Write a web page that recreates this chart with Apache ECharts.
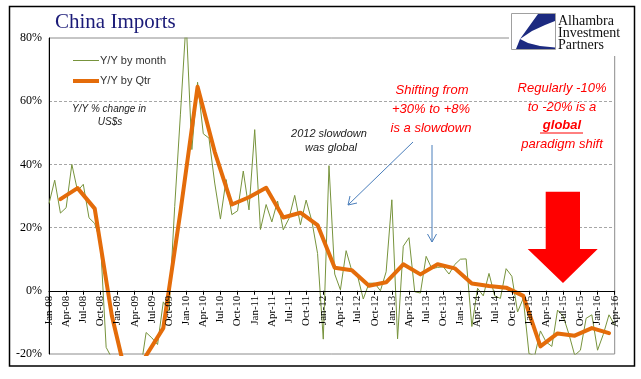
<!DOCTYPE html>
<html>
<head>
<meta charset="utf-8">
<script src="https://cdn.jsdelivr.net/npm/echarts@6/dist/echarts.min.js"></script>
<style>
html,body{margin:0;padding:0;background:#fff;}
#chart{width:641px;height:379px;}
</style>
</head>
<body>
<div id="chart"></div>
<script>
// ---- Data (China imports, Y/Y % change in US$) ----
const monthNames = ['Jan','Feb','Mar','Apr','May','Jun','Jul','Aug','Sep','Oct','Nov','Dec'];
const years = ['08','09','10','11','12','13','14','15','16'];

const m2008 = [27.6, 35.0, 24.6, 26.3, 40.0, 31.6, 33.7, 23.1, 21.3, 15.6, -17.9, -21.3];
const m2009 = [-43.1, -24.1, -25.1, -23.0, -25.2, -13.2, -14.9, -17.0, -3.5, -6.4, 26.7, 55.9];
const m2010 = [85.5, 44.7, 66.0, 49.7, 48.3, 34.1, 22.7, 35.2, 24.1, 25.3, 37.9, 25.6];
const m2011 = [51.0, 19.4, 27.3, 21.8, 28.4, 19.3, 22.9, 30.2, 20.9, 28.7, 22.1, 11.8];
const m2012 = [-15.3, 39.6, 5.3, 0.3, 12.7, 6.3, 4.7, -2.6, 2.4, 2.4, 0.0, 6.0];
const m2013 = [28.8, -15.2, 14.1, 16.8, -0.3, -0.7, 10.9, 7.0, 7.4, 7.6, 5.3, 8.3];
const m2014 = [10.0, 10.1, -11.3, 0.8, -1.6, 5.5, -1.6, -2.4, 7.0, 4.6, -6.7, -2.4];
const m2015 = [-19.9, -20.5, -12.7, -16.2, -17.6, -6.1, -8.1, -13.8, -20.4, -18.8, -8.7, -7.6];
const m2016 = [-18.8, -13.8, -7.6, -10.9];

// Quarterly Y/Y, Q1-08 .. Q1-16 (plotted at quarter-end month)
const qtr = [29.0, 32.5, 26.0, -7.9,
             -30.8, -20.5, -11.8, 25.0,
             64.6, 44.0, 27.3, 29.6,
             32.6, 23.2, 24.7, 20.8,
             7.3, 6.5, 1.6, 2.7,
             8.4, 5.2, 8.4, 7.1,
             2.3, 1.5, 1.0, -1.6,
             -17.6, -13.5, -14.2, -11.8,
             -13.4];

const yTicks = [-20, 0, 20, 40, 60, 80];

// ---- Build arrays ----
const monthly = [].concat(m2008, m2009, m2010, m2011, m2012, m2013, m2014, m2015, m2016);
const categories = [];
years.forEach(y => monthNames.forEach(m => categories.push(m + '-' + y)));
categories.length = monthly.length;
const quarterly = monthly.map(() => null);
qtr.forEach((v, i) => { quarterly[i * 3 + 2] = v; });

const chart = echarts.init(document.getElementById('chart'), null, {renderer: 'canvas'});

const red = '#FF0000';
const blue = '#4A7EBB';
const sansI = 'italic 13px "Liberation Sans"';

// zero line y position: top 38, bottom 354, range -20..80
const gridTop = 38, gridBottomY = 354;
const zeroY = gridBottomY - (gridBottomY - gridTop) * (0 - yTicks[0]) / (yTicks[yTicks.length - 1] - yTicks[0]);

chart.setOption({
  animation: false,
  backgroundColor: '#fff',
  grid: [
    {
      left: 49, right: 26.3, top: gridTop, bottom: 379 - gridBottomY,
      containLabel: false, outerBoundsMode: 'none',
      show: true, borderColor: '#8c8c8c', borderWidth: 1, backgroundColor: 'transparent'
    },
    {
      left: 49, right: 26.3, top: gridTop, bottom: 379 - zeroY,
      containLabel: false, outerBoundsMode: 'none', show: false
    }
  ],
  xAxis: [
    {
      type: 'category', gridIndex: 0,
      data: categories,
      boundaryGap: false,
      axisLine: {show: false},
      axisTick: {show: false},
      axisLabel: {show: false},
      splitLine: {show: false}
    },
    {
      type: 'category', gridIndex: 1,
      data: categories,
      boundaryGap: false,
      position: 'bottom',
      z: 5,
      axisLine: {onZero: false, lineStyle: {color: '#000', width: 1}},
      axisTick: {interval: 2, length: 4, lineStyle: {color: '#000'}},
      axisLabel: {
        interval: 2, rotate: 90, margin: 5,
        fontFamily: 'Liberation Serif', fontSize: 11, color: '#000'
      },
      splitLine: {show: false}
    }
  ],
  yAxis: [
    {
      type: 'value', gridIndex: 0,
      min: yTicks[0], max: yTicks[yTicks.length - 1], interval: 20,
      axisLine: {show: true, onZero: false, lineStyle: {color: '#000', width: 1}},
      axisTick: {show: false},
      axisLabel: {
        formatter: '{value}%', margin: 7,
        fontFamily: 'Liberation Serif', fontSize: 12, color: '#000'
      },
      splitLine: {
        show: true, showMinLine: false, showMaxLine: false,
        lineStyle: {color: '#a6a6a6', type: [3, 2], width: 1}
      }
    },
    {
      type: 'value', gridIndex: 1, min: 0, max: 1, show: false,
      axisLine: {show: false}, axisLabel: {show: false}, splitLine: {show: false}, axisTick: {show: false}
    }
  ],
  series: [
    {
      name: 'Y/Y by month', type: 'line', data: monthly,
      xAxisIndex: 0, yAxisIndex: 0,
      symbol: 'none', z: 2,
      lineStyle: {color: '#77933C', width: 1}
    },
    {
      name: 'Y/Y by Qtr', type: 'line', data: quarterly,
      xAxisIndex: 0, yAxisIndex: 0,
      connectNulls: true, symbol: 'none', z: 3,
      lineStyle: {color: '#E46C0A', width: 4, join: 'round', cap: 'round'}
    }
  ],
  graphic: [
    // outer frame
    {type: 'rect', z: 20, shape: {x: 9.5, y: 6.5, width: 625, height: 359.5},
     style: {fill: 'none', stroke: '#000', lineWidth: 1.5}},
    // title
    {type: 'text', z: 20, x: 55, y: 22,
     style: {text: 'China Imports', font: '21px "Liberation Serif"', fill: '#1B1B78',
             textAlign: 'left', verticalAlign: 'middle'}},
    // logo
    {type: 'rect', z: 20, shape: {x: 509, y: 10, width: 122, height: 46},
     style: {fill: '#fff', stroke: null}},
    {type: 'rect', z: 21, shape: {x: 511.5, y: 13.5, width: 44, height: 36},
     style: {fill: '#fff', stroke: '#a0a0a0', lineWidth: 1}},
    {type: 'polygon', z: 22,
     shape: {points: [[538, 14], [555, 14], [555, 21], [545, 25], [532, 31], [520, 39]]},
     style: {fill: '#1C2A80'}},
    {type: 'polygon', z: 22,
     shape: {points: [[520, 39], [528, 43], [540, 46], [555, 47.5], [555, 49], [516, 49]]},
     style: {fill: '#1C2A80'}},
    {type: 'text', z: 22, x: 558, y: 21.5,
     style: {text: 'Alhambra', font: '14px "Liberation Serif"', fill: '#111', verticalAlign: 'middle'}},
    {type: 'text', z: 22, x: 558, y: 33.5,
     style: {text: 'Investment', font: '14px "Liberation Serif"', fill: '#111', verticalAlign: 'middle'}},
    {type: 'text', z: 22, x: 558, y: 45.5,
     style: {text: 'Partners', font: '14px "Liberation Serif"', fill: '#111', verticalAlign: 'middle'}},
    // legend
    {type: 'line', z: 20, shape: {x1: 73, y1: 60.5, x2: 99, y2: 60.5},
     style: {stroke: '#77933C', lineWidth: 1}},
    {type: 'text', z: 20, x: 100, y: 60.5,
     style: {text: 'Y/Y by month', font: '11px "Liberation Sans"', fill: '#333', verticalAlign: 'middle'}},
    {type: 'line', z: 20, shape: {x1: 73, y1: 81, x2: 99, y2: 81},
     style: {stroke: '#E46C0A', lineWidth: 4}},
    {type: 'text', z: 20, x: 100, y: 81,
     style: {text: 'Y/Y by Qtr', font: '11px "Liberation Sans"', fill: '#333', verticalAlign: 'middle'}},
    // note
    {type: 'text', z: 20, x: 109, y: 109,
     style: {text: 'Y/Y % change in', font: 'italic 10px "Liberation Sans"', fill: '#222',
             textAlign: 'center', verticalAlign: 'middle'}},
    {type: 'text', z: 20, x: 110, y: 122,
     style: {text: 'US$s', font: 'italic 10px "Liberation Sans"', fill: '#222',
             textAlign: 'center', verticalAlign: 'middle'}},
    {type: 'text', z: 20, x: 329, y: 134,
     style: {text: '2012 slowdown', font: 'italic 11px "Liberation Sans"', fill: '#222',
             textAlign: 'center', verticalAlign: 'middle'}},
    {type: 'text', z: 20, x: 331, y: 148,
     style: {text: 'was global', font: 'italic 11px "Liberation Sans"', fill: '#222',
             textAlign: 'center', verticalAlign: 'middle'}},
    // red annotation 1
    {type: 'text', z: 20, x: 432, y: 90,
     style: {text: 'Shifting from', font: sansI, fill: red, textAlign: 'center', verticalAlign: 'middle'}},
    {type: 'text', z: 20, x: 431, y: 109,
     style: {text: '+30% to +8%', font: sansI, fill: red, textAlign: 'center', verticalAlign: 'middle'}},
    {type: 'text', z: 20, x: 431, y: 128,
     style: {text: 'is a slowdown', font: sansI, fill: red, textAlign: 'center', verticalAlign: 'middle'}},
    // red annotation 2
    {type: 'text', z: 20, x: 562, y: 88,
     style: {text: 'Regularly -10%', font: sansI, fill: red, textAlign: 'center', verticalAlign: 'middle'}},
    {type: 'text', z: 20, x: 562, y: 107,
     style: {text: 'to -20% is a', font: sansI, fill: red, textAlign: 'center', verticalAlign: 'middle'}},
    {type: 'text', z: 20, x: 562, y: 125,
     style: {text: 'global', font: 'italic bold 13px "Liberation Sans"', fill: red, textAlign: 'center', verticalAlign: 'middle'}},
    {type: 'line', z: 20, shape: {x1: 540, y1: 133, x2: 583, y2: 133},
     style: {stroke: red, lineWidth: 1}},
    {type: 'text', z: 20, x: 562, y: 144,
     style: {text: 'paradigm shift', font: sansI, fill: red, textAlign: 'center', verticalAlign: 'middle'}},
    // blue arrows
    {type: 'line', z: 20, shape: {x1: 413, y1: 142, x2: 348, y2: 205},
     style: {stroke: blue, lineWidth: 1}},
    {type: 'polyline', z: 20, shape: {points: [[350, 196], [348, 205], [357, 203]]},
     style: {stroke: blue, lineWidth: 1, fill: null}},
    {type: 'line', z: 20, shape: {x1: 432, y1: 145, x2: 432, y2: 242},
     style: {stroke: blue, lineWidth: 1}},
    {type: 'polyline', z: 20, shape: {points: [[427.5, 234], [432, 242], [436.5, 234]]},
     style: {stroke: blue, lineWidth: 1, fill: null}},
    // big red arrow
    {type: 'polygon', z: 20,
     shape: {points: [[545.7, 191.7], [580, 191.7], [580, 249], [597.7, 249], [563, 283], [527.7, 249], [545.7, 249]]},
     style: {fill: red}}
  ]
});
</script>
</body>
</html>
